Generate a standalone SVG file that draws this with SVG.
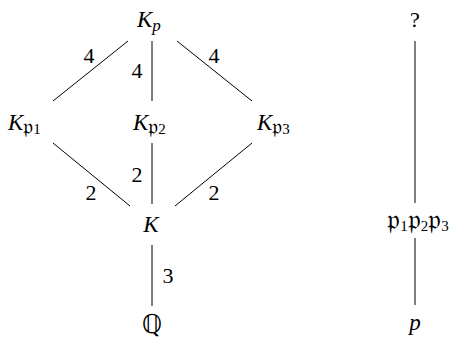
<svg xmlns="http://www.w3.org/2000/svg" width="449" height="338" viewBox="0 0 449 338">
<style>
text{font-family:"Liberation Serif","DejaVu Serif",serif;fill:#000}
.m{font-style:italic;font-size:23px}
.n{font-size:22px}
.s{font-size:15px;font-style:normal}
.f{font-family:"DejaVu Serif","Noto Sans",serif;font-style:normal;font-size:22px}
.F{font-family:"DejaVu Serif","Noto Sans",serif;font-style:normal;font-size:28px}
.Q{font-family:"DejaVu Sans",serif;font-style:normal;font-size:26px}
.e{stroke:#000;stroke-width:1;fill:none}
</style>
<rect width="449" height="338" fill="#fff"/>
<g id="connectors">
<line class="e" x1="128" y1="41" x2="53" y2="101"/>
<line class="e" x1="152" y1="41" x2="152" y2="101"/>
<line class="e" x1="177" y1="41" x2="252" y2="101"/>
<line class="e" x1="53" y1="143" x2="130" y2="206"/>
<line class="e" x1="152" y1="143" x2="152" y2="204"/>
<line class="e" x1="252" y1="143" x2="175" y2="206"/>
<line class="e" x1="152" y1="245" x2="152" y2="306"/>
<line class="e" x1="415" y1="41" x2="415" y2="203"/>
<line class="e" x1="415" y1="238" x2="415" y2="305"/>
<text class="n" x="89" y="63" text-anchor="middle">4</text>
<text class="n" x="137" y="78" text-anchor="middle">4</text>
<text class="n" x="214" y="63" text-anchor="middle">4</text>
<text class="n" x="91" y="200" text-anchor="middle">2</text>
<text class="n" x="137" y="182" text-anchor="middle">2</text>
<text class="n" x="214" y="200" text-anchor="middle">2</text>
<text class="n" x="168" y="283" text-anchor="middle">3</text>
</g>
<g id="Kp"><text class="m" x="137" y="27">K<tspan style="font-size:17px" dy="4">p</tspan></text></g>
<g id="Kp1"><text class="m" x="8" y="130">K<tspan class="f" dy="4">𝔭</tspan><tspan class="s">1</tspan></text></g>
<g id="Kp2"><text class="m" x="133" y="130">K<tspan class="f" dy="4">𝔭</tspan><tspan class="s">2</tspan></text></g>
<g id="Kp3"><text class="m" x="257" y="130">K<tspan class="f" dy="4">𝔭</tspan><tspan class="s">3</tspan></text></g>
<g id="K"><text class="m" x="151" y="232" text-anchor="middle">K</text></g>
<g id="Q"><text class="Q" x="152" y="333" text-anchor="middle">ℚ</text></g>
<g id="q"><text class="n" x="415" y="27" text-anchor="middle">?</text></g>
<g id="ppp"><text class="n" x="418" y="229" text-anchor="middle"><tspan class="F">𝔭</tspan><tspan class="s" dy="2">1</tspan><tspan class="F" dy="-2">𝔭</tspan><tspan class="s" dy="2">2</tspan><tspan class="F" dy="-2">𝔭</tspan><tspan class="s" dy="2">3</tspan></text></g>
<g id="p"><text class="m" x="415" y="330" text-anchor="middle">p</text></g>
</svg>
